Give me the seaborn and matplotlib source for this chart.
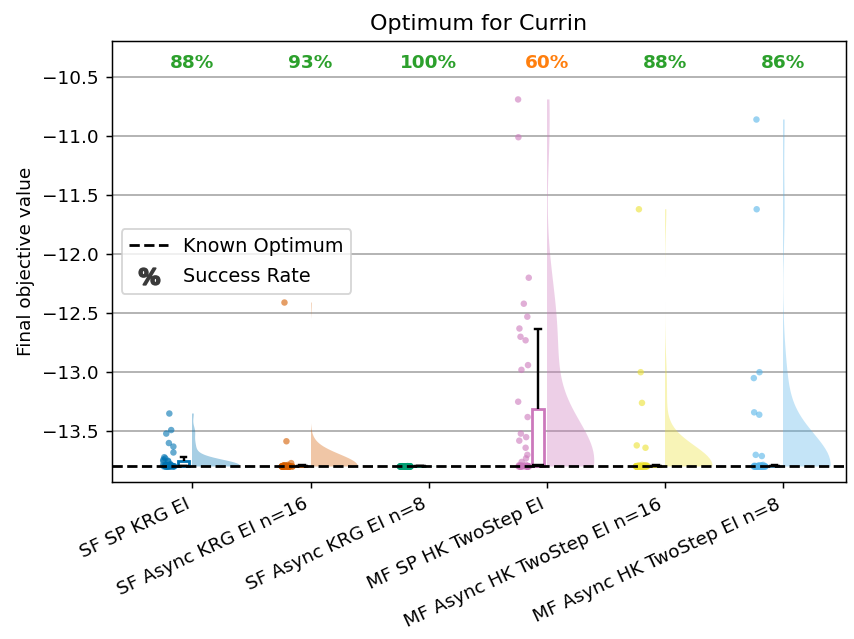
import numpy as np
import pandas as pd
import matplotlib
matplotlib.use("Agg")
import matplotlib.pyplot as plt
import seaborn as sns
from matplotlib.lines import Line2D
from matplotlib.patches import Rectangle

# ---------------- data ----------------
methods = [
    "SF SP KRG EI",
    "SF Async KRG EI n=16",
    "SF Async KRG EI n=8",
    "MF SP HK TwoStep EI",
    "MF Async HK TwoStep EI n=16",
    "MF Async HK TwoStep EI n=8",
]
known_optimum = -13.7987
success_rates = [88, 93, 100, 60, 88, 86]

vals_sf_sp_krg = [
    -13.35, -13.49, -13.52, -13.60, -13.63, -13.68, -13.72, -13.73, -13.74, -13.75,
    -13.752, -13.756, -13.780, -13.782, -13.784, -13.785, -13.786, -13.788, -13.789,
    -13.790, -13.791, -13.792, -13.793, -13.794, -13.795, -13.795, -13.796, -13.796,
    -13.797, -13.797, -13.797, -13.798, -13.798, -13.798, -13.7985, -13.7985,
    -13.7987, -13.7987, -13.7987, -13.7987, -13.7987, -13.7987, -13.7987,
]
vals_sf_async16 = [
    -12.41, -13.585, -13.77, -13.785, -13.788, -13.790, -13.791, -13.792, -13.793,
    -13.794, -13.795, -13.795, -13.796, -13.796, -13.797, -13.797, -13.797, -13.798,
    -13.798, -13.798, -13.798, -13.7983, -13.7983, -13.7985, -13.7985, -13.7985,
    -13.7986, -13.7986, -13.7987, -13.7987, -13.7987, -13.7987, -13.7987, -13.7987,
    -13.7987, -13.7987, -13.7987, -13.7987, -13.7987, -13.7987, -13.7987, -13.7987,
    -13.7987,
]
vals_sf_async8 = [
    -13.795, -13.796, -13.796, -13.797, -13.797, -13.797, -13.798, -13.798, -13.798,
    -13.798, -13.7982, -13.7982, -13.7983, -13.7983, -13.7984, -13.7984, -13.7985,
    -13.7985, -13.7985, -13.7986, -13.7986, -13.7986, -13.7986, -13.7987, -13.7987,
    -13.7987, -13.7987, -13.7987, -13.7987, -13.7987, -13.7987, -13.7987, -13.7987,
    -13.7987, -13.7987, -13.7987, -13.7987, -13.7987, -13.7987, -13.7987, -13.7987,
    -13.7987, -13.7987,
]
vals_mf_sp_hk = [
    -10.69, -11.01, -12.20, -12.42, -12.53, -12.63, -12.70, -12.73, -12.94, -12.98,
    -13.25, -13.38, -13.52, -13.55, -13.58, -13.64, -13.70, -13.73, -13.76,
    -13.785, -13.788, -13.790, -13.792, -13.794, -13.795, -13.796, -13.797, -13.797,
    -13.798, -13.798, -13.7985, -13.7985, -13.7986, -13.7987, -13.7987, -13.7987,
    -13.7987, -13.7987, -13.7987, -13.7987, -13.7987, -13.7987, -13.7987,
]
vals_mf_async16 = [
    -11.62, -13.00, -13.26, -13.62, -13.64, -13.785, -13.788, -13.790, -13.791,
    -13.792, -13.793, -13.794, -13.795, -13.795, -13.796, -13.796, -13.797, -13.797,
    -13.797, -13.798, -13.798, -13.798, -13.7983, -13.7985, -13.7985, -13.7986,
    -13.7986, -13.7987, -13.7987, -13.7987, -13.7987, -13.7987, -13.7987, -13.7987,
    -13.7987, -13.7987, -13.7987, -13.7987, -13.7987, -13.7987, -13.7987, -13.7987,
    -13.7987,
]
vals_mf_async8 = [
    -10.86, -11.62, -13.00, -13.05, -13.34, -13.36, -13.70, -13.71, -13.785, -13.788,
    -13.790, -13.791, -13.792, -13.793, -13.794, -13.795, -13.795, -13.796, -13.796,
    -13.797, -13.797, -13.797, -13.798, -13.798, -13.798, -13.7983, -13.7985,
    -13.7985, -13.7986, -13.7986, -13.7987, -13.7987, -13.7987, -13.7987, -13.7987,
    -13.7987, -13.7987, -13.7987, -13.7987, -13.7987, -13.7987, -13.7987, -13.7987,
]
all_values = [vals_sf_sp_krg, vals_sf_async16, vals_sf_async8,
              vals_mf_sp_hk, vals_mf_async16, vals_mf_async8]

pal = sns.color_palette("colorblind")
colors = [pal[i] for i in (0, 3, 2, 4, 8, 9)]

rows = []
for i, (m, vals) in enumerate(zip(methods, all_values)):
    for v in vals:
        rows.append({"method": m, "value": v, "idx": float(i)})
df = pd.DataFrame(rows)
df["pos_box"] = df["idx"] - 0.075
df["pos_strip"] = df["idx"] - 0.2

# ---------------- figure ----------------
DPI = 133.3
fig = plt.figure(figsize=(854 / DPI, 639 / DPI), dpi=DPI)
ax = fig.add_axes([112 / 854, 1 - 482 / 639, (846 - 112) / 854, (482 - 41) / 639])

# half violins
n0 = len(ax.collections)
sns.violinplot(data=df, x="idx", y="value", hue="method", hue_order=methods,
               palette=colors, native_scale=True, dodge=False, cut=0, inner=None,
               density_norm="width", width=0.8, linewidth=0, legend=False, ax=ax)
for coll in ax.collections[n0:]:
    paths = coll.get_paths()
    if not paths:
        continue
    xs = np.concatenate([p.vertices[:, 0] for p in paths])
    cx = (xs.min() + xs.max()) / 2
    k = int(round(cx))
    coll.set_facecolor(colors[k])
    coll.set_edgecolor("none")
    coll.set_alpha(0.35)
    rect = Rectangle((cx, -100), 5, 200, transform=ax.transData)
    coll.set_clip_path(rect)

# boxes
p0 = len(ax.patches)
sns.boxplot(data=df, x="pos_box", y="value", hue="method", hue_order=methods,
            palette=colors, native_scale=True, dodge=False, width=0.1,
            showfliers=False, linecolor="black", linewidth=1.3, legend=False, ax=ax)
for patch in ax.patches[p0:]:
    verts = patch.get_path().vertices
    cx = (verts[:, 0].min() + verts[:, 0].max()) / 2
    k = int(round(cx + 0.075))
    patch.set_facecolor("white")
    patch.set_edgecolor(colors[k])
    patch.set_linewidth(1.5)

# strip points
np.random.seed(3)
sns.stripplot(data=df, x="pos_strip", y="value", hue="method", hue_order=methods,
              palette=colors, native_scale=True, dodge=False, jitter=0.05,
              size=3.5, alpha=0.6, linewidth=0, legend=False, ax=ax)

# known optimum
ax.axhline(known_optimum, color="black", linestyle="--", linewidth=1.5, zorder=5)

# success rate labels
for i, r in enumerate(success_rates):
    ax.text(i, 0.95, f"{r}%", transform=ax.get_xaxis_transform(),
            ha="center", va="center", fontweight="bold", fontsize=10,
            color="#2ca02c" if r >= 80 else "#ff7f0e")

ax.set_xlim(-0.68, 5.53)
ax.set_ylim(-13.93, -10.195)
ax.set_xticks(range(len(methods)))
ax.set_xticklabels(methods, rotation=25, ha="right")
ax.set_xlabel("")
ax.set_ylabel("Final objective value")
ax.set_title("Optimum for Currin", fontsize=12)
ax.grid(axis="y", color="#b0b0b0", linewidth=1.0)
ax.grid(axis="x", visible=False)
ax.set_axisbelow(True)

handles = [
    Line2D([0], [0], color="black", linestyle="--", linewidth=1.5),
    Line2D([0], [0], marker=r"$\mathbf{\%}$", linestyle="none",
           color="#3a3a3a", markersize=11),
]
ax.legend(handles, ["Known Optimum", "Success Rate"], loc="center left",
          fontsize=10.4, labelspacing=0.6)

fig.savefig("out.png", dpi=DPI)
